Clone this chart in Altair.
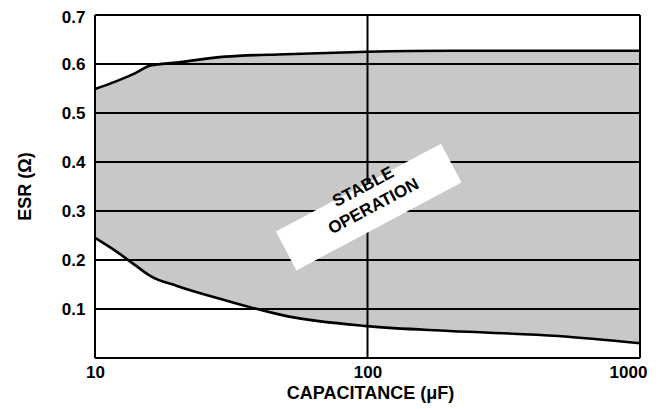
import altair as alt
import pandas as pd

# ---- data ----
cap = [10, 12, 14, 16, 20, 30, 50, 100, 200, 500, 1000]
esr_upper = [0.549, 0.565, 0.581, 0.597, 0.603, 0.615, 0.620, 0.625, 0.627, 0.627, 0.627]
esr_lower = [0.245, 0.217, 0.190, 0.167, 0.147, 0.118, 0.086, 0.065, 0.055, 0.045, 0.030]

x_ticks = [10, 100, 1000]
y_ticks = [0.1, 0.2, 0.3, 0.4, 0.5, 0.6, 0.7]
y_grid = [0.0, 0.1, 0.2, 0.3, 0.4, 0.5, 0.6, 0.7]

label_lines = ["STABLE", "OPERATION"]
box_cap = [101]
box_esr = [0.308]

FONT = "Liberation Sans"

df = pd.DataFrame({"cap": cap, "upper": esr_upper, "lower": esr_lower})
df_vgrid = pd.DataFrame({"cap": x_ticks})
df_hgrid = pd.DataFrame({"esr": y_grid})
df_box = pd.DataFrame({"cap": box_cap, "esr": box_esr})

xscale = alt.Scale(type="log", domain=[10, 1000], nice=False)
yscale = alt.Scale(domain=[0, 0.7], nice=False, zero=False)

x_axis = alt.Axis(
    values=x_ticks, format="d", grid=False, ticks=False, domain=False,
    labelFont=FONT, labelFontWeight="bold", labelFontSize=17, labelColor="black",
    labelPadding=6, labelFlush=False,
    labelOffset={"condition": {"test": "datum.value == 1000", "value": -12}, "value": 0},
    title="CAPACITANCE (μF)", titleFont=FONT, titleFontWeight="bold", titleFontSize=18,
    titleColor="black", titleBaseline="middle", titleY=35, titleX=275, titleAlign="center",
)
y_axis = alt.Axis(
    values=y_ticks, format=".1f", grid=False, ticks=False, domain=False,
    labelFont=FONT, labelFontWeight="bold", labelFontSize=17, labelColor="black",
    labelPadding=10, labelFlush=False,
    labelOffset={"condition": {"test": "datum.value >= 0.69", "value": 2}, "value": 0},
    title="ESR (Ω)", titleFont=FONT, titleFontWeight="bold", titleFontSize=18,
    titleColor="black", titleAngle=270, titleBaseline="middle", titleAlign="center",
    titleX=-70, titleY=171,
)

area = alt.Chart(df).mark_area(color="#c8c8c8", opacity=1, interpolate="monotone").encode(
    x=alt.X("cap:Q", scale=xscale, axis=x_axis),
    y=alt.Y("lower:Q", scale=yscale, axis=y_axis),
    y2="upper:Q",
)

hgrid = alt.Chart(df_hgrid).mark_rule(color="black", strokeWidth=2).encode(
    y=alt.Y("esr:Q", scale=yscale)
)
vgrid = alt.Chart(df_vgrid).mark_rule(color="black", strokeWidth=2).encode(
    x=alt.X("cap:Q", scale=xscale)
)

upper_line = alt.Chart(df).mark_line(color="black", strokeWidth=2.6, interpolate="monotone").encode(
    x=alt.X("cap:Q", scale=xscale), y=alt.Y("upper:Q", scale=yscale)
)
lower_line = alt.Chart(df).mark_line(color="black", strokeWidth=2.6, interpolate="monotone").encode(
    x=alt.X("cap:Q", scale=xscale), y=alt.Y("lower:Q", scale=yscale)
)

box = alt.Chart(df_box).mark_point(
    shape="M-1,-0.235L1,-0.235L1,0.235L-1,0.235Z",
    size=187 * 187, angle=332, filled=True, fill="white", opacity=1, strokeWidth=0,
).encode(x=alt.X("cap:Q", scale=xscale), y=alt.Y("esr:Q", scale=yscale))

chart = alt.layer(area, hgrid, vgrid, upper_line, lower_line, box).properties(
    width=545, height=343,
    title=alt.TitleParams(
        label_lines, angle=332, anchor="middle", frame="group", orient="top",
        offset=0, dy=228, dx=-126, baseline="middle", align="center",
        font=FONT, fontWeight="bold", fontSize=17, lineHeight=22, color="black",
    ),
    autosize=alt.AutoSizeParams(type="none"),
    padding={"left": 87, "top": 7, "right": 14, "bottom": 46},
).configure_view(stroke=None).configure(background="white")

chart.save("out.html", embed_options={"renderer": "svg", "actions": False})
